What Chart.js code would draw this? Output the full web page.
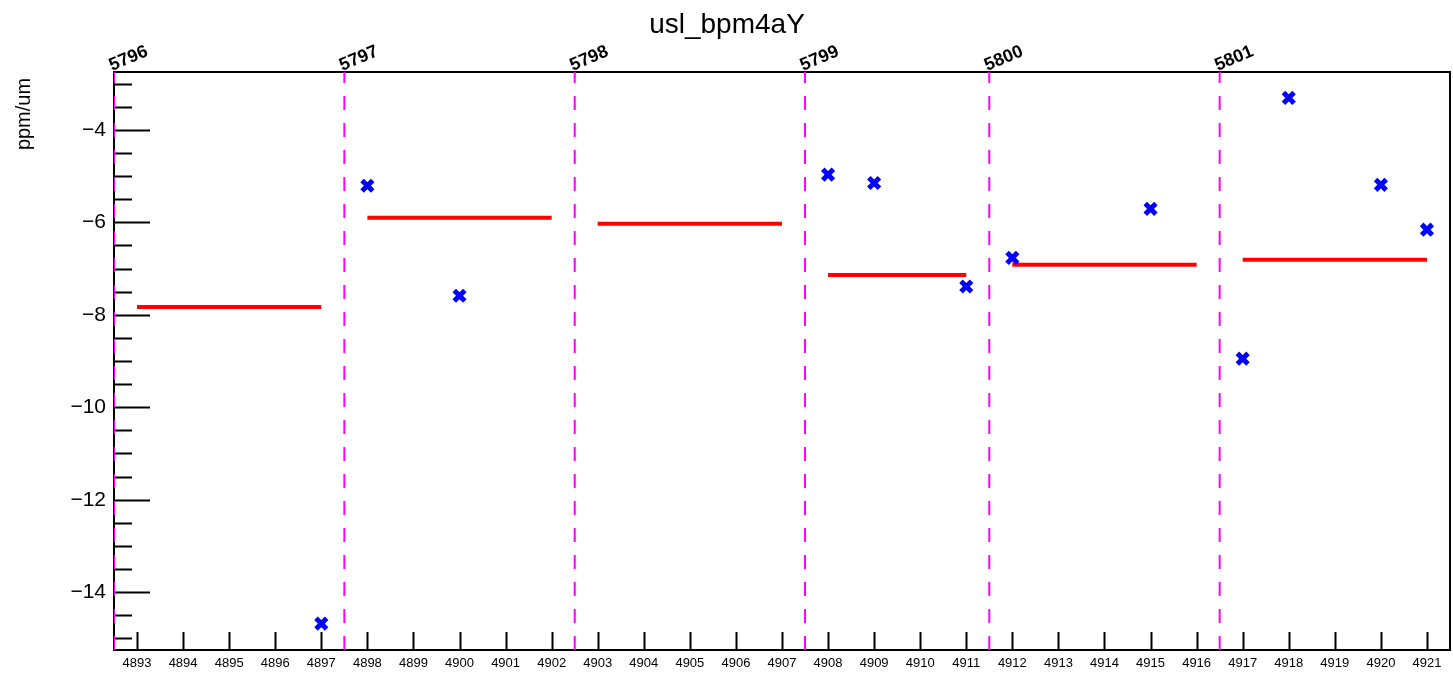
<!DOCTYPE html>
<html>
<head>
<meta charset="utf-8">
<script src="https://cdn.jsdelivr.net/npm/chart.js@4"></script>
<style>
  html, body { margin: 0; padding: 0; background: #fff; }
  #wrap { width: 1453px; height: 677px; position: relative; }
</style>
</head>
<body>
<div id="wrap"><canvas id="myChart"></canvas></div>
<script>
'use strict';

// data
let chartTitle = 'usl_bpm4aY';
let yTitle = 'ppm/um';
let runs = [5796, 5797, 5798, 5799, 5800, 5801];
let runBoundaries = [4892.5, 4897.5, 4902.5, 4907.5, 4911.5, 4916.5];
let runStart = [4893, 4898, 4903, 4908, 4912, 4917];
let runEnd = [4897, 4902, 4907, 4911, 4916, 4921];
let runMeans = [-7.83, -5.90, -6.03, -7.14, -6.92, -6.81];
let miniruns = [4897, 4898, 4900, 4908, 4909, 4911, 4912, 4915, 4917, 4918, 4920, 4921];
let values = [-14.68, -5.21, -7.59, -4.97, -5.15, -7.39, -6.77, -5.71, -8.95, -3.31, -5.19, -6.16];

let xMin = 4892.5, xMax = 4921.5;
let yMin = -15.25, yMax = -2.75;

let datasets = [];

// magenta run boundaries
for (let i = 0; i < runBoundaries.length; i++) {
  datasets.push({
    type: 'line',
    data: [{ x: runBoundaries[i], y: yMin }, { x: runBoundaries[i], y: yMax }],
    borderColor: '#ff00ff',
    borderWidth: 2,
    borderDash: [14, 13],
    pointRadius: 0,
    order: 3
  });
}

// red run averages
for (let i = 0; i < runs.length; i++) {
  datasets.push({
    type: 'line',
    data: [{ x: runStart[i], y: runMeans[i] }, { x: runEnd[i], y: runMeans[i] }],
    borderColor: '#ff0000',
    borderWidth: 4,
    pointRadius: 0,
    order: 2
  });
}

// blue minirun points
let pts = [];
for (let i = 0; i < miniruns.length; i++) {
  pts.push({ x: miniruns[i], y: values[i] });
}
datasets.push({
  type: 'scatter',
  data: pts,
  pointStyle: 'crossRot',
  pointRadius: 7.5,
  borderColor: '#0000ff',
  backgroundColor: '#0000ff',
  borderWidth: 5,
  pointBorderWidth: 5,
  order: 1
});

// axis frame, ticks and extra text
let rootStyle = {
  id: 'rootStyle',
  beforeDatasetsDraw(chart) {
    let ctx = chart.ctx;
    let a = chart.chartArea;
    let xs = chart.scales.x;
    let ys = chart.scales.y;
    ctx.save();
    ctx.strokeStyle = '#000';
    ctx.lineWidth = 2;
    ctx.strokeRect(a.left, a.top, a.right - a.left, a.bottom - a.top);
    ctx.beginPath();
    for (let v = -15; v <= -3; v += 0.5) {
      let y = Math.round(ys.getPixelForValue(v)) + 0.5;
      let len = (v % 2 === 0) ? 36 : 18;
      ctx.moveTo(a.left, y);
      ctx.lineTo(a.left + len, y);
    }
    for (let v = 4893; v <= 4921; v++) {
      let x = Math.round(xs.getPixelForValue(v)) + 0.5;
      ctx.moveTo(x, a.bottom);
      ctx.lineTo(x, a.bottom - 18);
    }
    ctx.stroke();
    ctx.restore();
  },
  afterDraw(chart) {
    let ctx = chart.ctx;
    let a = chart.chartArea;
    let xs = chart.scales.x;
    ctx.save();
    ctx.fillStyle = '#000';
    ctx.font = '28px "Liberation Sans", Arial, sans-serif';
    ctx.textAlign = 'center';
    ctx.textBaseline = 'alphabetic';
    ctx.fillText(chartTitle, 727, 33);

    ctx.save();
    ctx.translate(30, 114);
    ctx.rotate(-Math.PI / 2);
    ctx.font = '20px "Liberation Sans", Arial, sans-serif';
    ctx.textAlign = 'center';
    ctx.fillText(yTitle, 0, 0);
    ctx.restore();

    ctx.font = 'bold 18px "Liberation Sans", Arial, sans-serif';
    ctx.textAlign = 'left';
    for (let i = 0; i < runs.length; i++) {
      let x = xs.getPixelForValue(runBoundaries[i]);
      ctx.save();
      ctx.translate(x - 2, a.top - 1);
      ctx.rotate(-23 * Math.PI / 180);
      ctx.fillText(String(runs[i]), 0, 0);
      ctx.restore();
    }
    ctx.restore();
  }
};

let config = {
  data: { datasets: datasets },
  options: {
    responsive: true,
    maintainAspectRatio: false,
    animation: false,
    layout: { autoPadding: false, padding: { top: 72, right: 3, left: 0, bottom: 0 } },
    plugins: {
      legend: { display: false },
      tooltip: { enabled: false },
      title: { display: false }
    },
    scales: {
      x: {
        type: 'linear',
        min: xMin,
        max: xMax,
        grid: { display: false, drawTicks: false },
        border: { display: false },
        afterBuildTicks(scale) {
          let t = [];
          for (let v = 4893; v <= 4921; v++) t.push({ value: v });
          scale.ticks = t;
        },
        afterFit(scale) {
          scale.height = 27;
          scale.paddingLeft = 0;
          scale.paddingRight = 0;
        },
        ticks: {
          autoSkip: false,
          maxRotation: 0,
          padding: 6,
          color: '#000',
          font: { family: '"Liberation Sans", Arial, sans-serif', size: 13 },
          callback: function (v) { return String(v); }
        }
      },
      y: {
        type: 'linear',
        min: yMin,
        max: yMax,
        grid: { display: false, drawTicks: false },
        border: { display: false },
        afterBuildTicks(scale) {
          let t = [];
          for (let v = -14; v <= -4; v += 2) t.push({ value: v });
          scale.ticks = t;
        },
        afterFit(scale) { scale.width = 114; },
        ticks: {
          padding: 8,
          color: '#000',
          font: { family: '"Liberation Sans", Arial, sans-serif', size: 21 },
          callback: function (v) { return '\u2212' + Math.abs(v); }
        }
      }
    }
  },
  plugins: [rootStyle]
};

const ctx = document.getElementById('myChart').getContext('2d');
const myChart = new Chart(ctx, config);
</script>
</body>
</html>
